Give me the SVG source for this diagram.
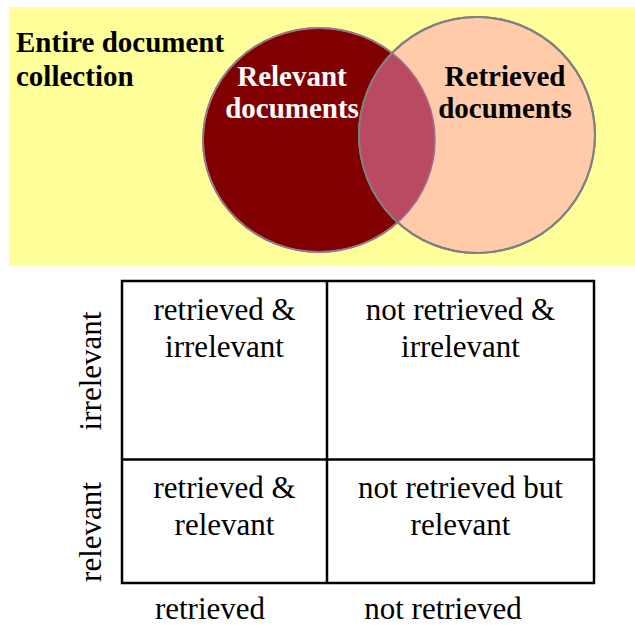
<svg xmlns="http://www.w3.org/2000/svg" width="635" height="625" viewBox="0 0 635 625">
  <style>
    text { font-family: "Liberation Serif", "Times New Roman", Times, "DejaVu Serif", serif; }
    .hdr { font-weight: bold; font-size: 29px; }
    .cell { font-size: 31px; fill: #000; text-anchor: middle; }
    .set { stroke: #808080; stroke-width: 2; }
    .grid { fill: none; stroke: #000; stroke-width: 2.5; }
  </style>
  <defs>
    <clipPath id="relevantClip">
      <ellipse cx="319" cy="140" rx="116" ry="112"/>
    </clipPath>
  </defs>
  <rect width="635" height="625" fill="#ffffff"/>

  <!-- Venn diagram -->
  <g id="collection">
    <rect x="9" y="7" width="626" height="259" fill="#FFFF99"/>
    <text class="hdr" x="16" y="52">Entire document</text>
    <text class="hdr" x="16" y="86">collection</text>
  </g>
  <g id="relevant">
    <ellipse class="set" cx="319" cy="140" rx="116" ry="112" fill="#800000"/>
  </g>
  <g id="retrieved">
    <circle class="set" cx="477" cy="135" r="118" fill="#FFCBAA"/>
    <!-- overlap of the two sets -->
    <circle cx="477" cy="135" r="118" fill="#B94A62" clip-path="url(#relevantClip)"/>
    <ellipse cx="319" cy="140" rx="116" ry="112" fill="none" stroke="#A07090" stroke-width="1.5"/>
    <circle class="set" cx="477" cy="135" r="118" fill="none"/>
  </g>
  <g id="labels">
    <text class="hdr" x="292" y="86" fill="#ffffff" text-anchor="middle">Relevant</text>
    <text class="hdr" x="292" y="118" fill="#ffffff" text-anchor="middle">documents</text>
    <text class="hdr" x="505" y="86" fill="#000000" text-anchor="middle">Retrieved</text>
    <text class="hdr" x="505" y="118" fill="#000000" text-anchor="middle">documents</text>
  </g>

  <!-- Contingency table -->
  <g id="table">
    <rect class="grid" x="122" y="281" width="472" height="302"/>
    <line class="grid" x1="327" y1="281" x2="327" y2="583"/>
    <line class="grid" x1="122" y1="459.5" x2="594" y2="459.5"/>
  </g>
  <g id="cell-ret-irr">
    <text class="cell" x="224.5" y="320">retrieved &amp;</text>
    <text class="cell" x="224.5" y="357">irrelevant</text>
  </g>
  <g id="cell-notret-irr">
    <text class="cell" x="460.5" y="320">not retrieved &amp;</text>
    <text class="cell" x="460.5" y="357">irrelevant</text>
  </g>
  <g id="cell-ret-rel">
    <text class="cell" x="224.5" y="498">retrieved &amp;</text>
    <text class="cell" x="224.5" y="535">relevant</text>
  </g>
  <g id="cell-notret-rel">
    <text class="cell" x="460.5" y="498">not retrieved but</text>
    <text class="cell" x="460.5" y="535">relevant</text>
  </g>
  <g id="axis-labels">
    <text class="cell" transform="translate(101 371) rotate(-90)">irrelevant</text>
    <text class="cell" transform="translate(101 532) rotate(-90)">relevant</text>
    <text class="cell" x="210" y="619">retrieved</text>
    <text class="cell" x="443" y="619">not retrieved</text>
  </g>
</svg>
